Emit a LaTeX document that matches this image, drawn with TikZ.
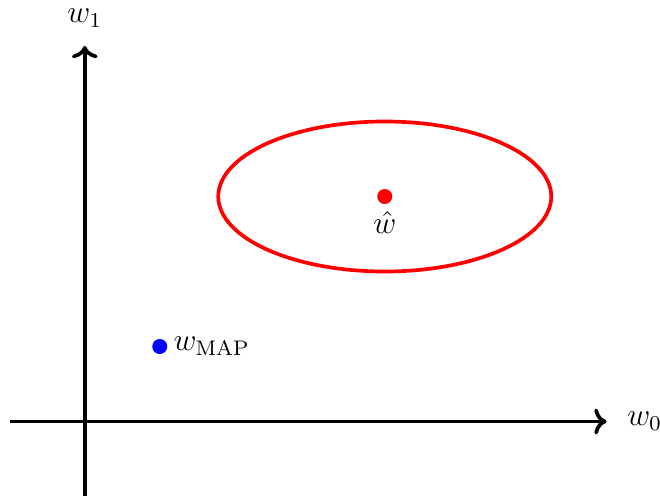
\documentclass[tikz,border=0pt]{standalone}
\usepackage{amsmath, amssymb}
\usepackage{xcolor}
\usepackage{tikz}
\usetikzlibrary{positioning, arrows.meta, calc}

\begin{document}
\begin{tikzpicture}[line width=1.4pt, font=\large, dot/.style={circle, inner sep=0pt, minimum size=0.2cm}]
    \useasboundingbox (-1.13,-0.98) rectangle (7.67,5.62);
    \coordinate (xstart) at (-1,0);
    \coordinate (ystart) at (0,-1);
    \node (xend) [inner sep=0pt] at (7,0) {};
    \node (yend) [inner sep=0pt] at (0,5.05) {};
    \node (w0) [right=0.05cm of xend] {$w_0$};
    \node (w1) [above=0.02cm of yend] {$w_1$};
    
    \draw[->] (xstart) -- (xend);
    \draw[->] (ystart) -- (yend);
    
    \node (what) [dot, fill=red] at (4,3) {};
    \node (whatlabel) [below=0.02cm of what, inner sep=1pt] {$\hat{w}$};
    \draw[red] (what) ellipse [x radius=2.22cm, y radius=1cm];
    
    \node (wmap) [dot, fill=blue] at (1,1) {};
    \node (wmaplabel) [right=0cm of wmap, inner sep=1pt] {$w_{\text{MAP}}$};
\end{tikzpicture}
\end{document}
